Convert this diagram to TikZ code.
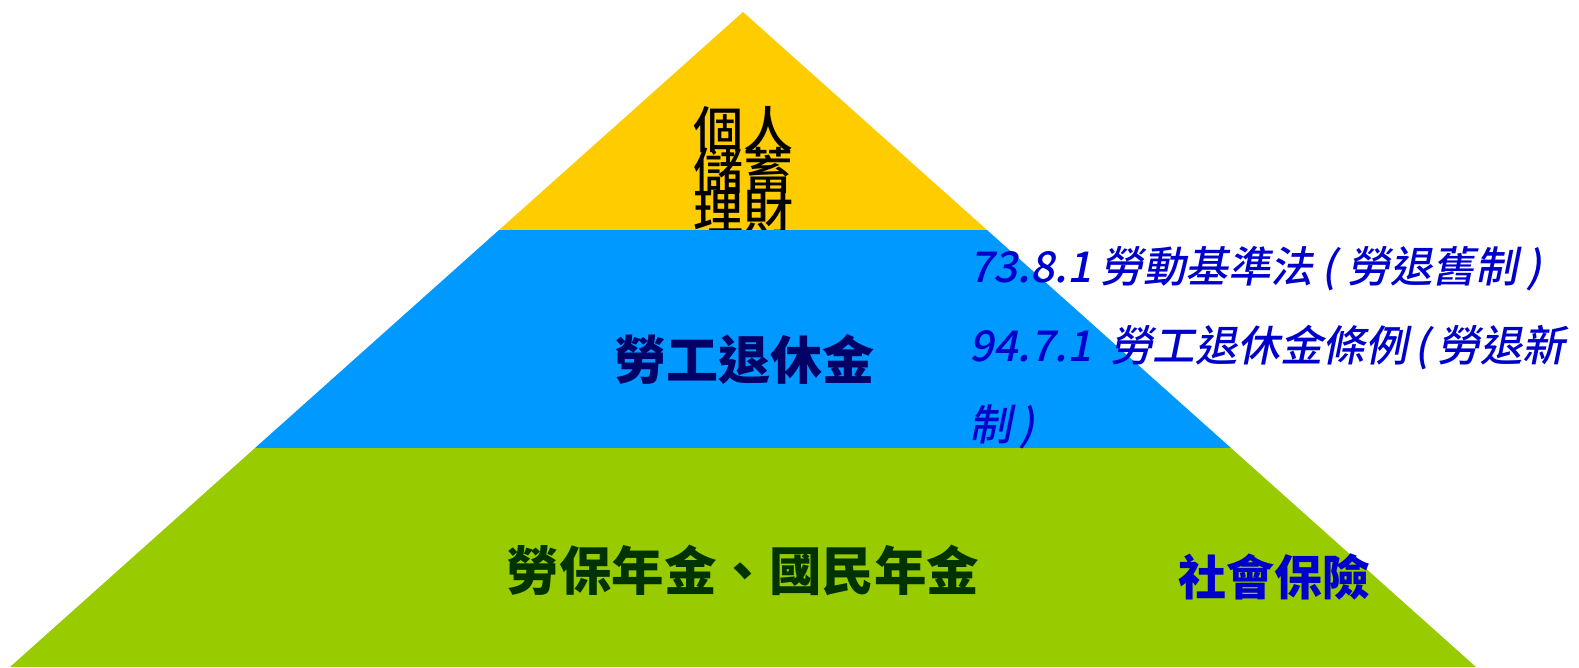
\documentclass[tikz,border=0pt]{standalone}
\usepackage{fontspec}
\newfontfamily\cjk{Noto Sans CJK TC}
\newfontfamily\cjkm{Noto Sans CJK TC Medium}
\newfontfamily\cjki{Noto Sans CJK TC Medium}[FakeSlant=0.2]
\definecolor{topyellow}{HTML}{FFCC00}
\definecolor{midblue}{HTML}{0099FF}
\definecolor{basegreen}{HTML}{99CC00}
\definecolor{navytext}{HTML}{000066}
\definecolor{greentext}{HTML}{003300}
\definecolor{bluetext}{HTML}{0000CC}
\tikzset{
  lbl/.style={inner sep=0pt, outer sep=0pt},
  toptext/.style={lbl, font=\cjkm\fontsize{50}{41}\selectfont, text=black, anchor=base},
  midtext/.style={lbl, font=\cjk\bfseries\fontsize{52}{60}\selectfont, text=navytext, anchor=base},
  basetext/.style={lbl, font=\cjk\bfseries\fontsize{52.5}{60}\selectfont, text=greentext, anchor=base},
  socialtext/.style={lbl, font=\cjk\bfseries\fontsize{48}{56}\selectfont, text=bluetext, anchor=base},
  lawtext/.style={lbl, font=\cjki\fontsize{42.5}{79}\selectfont, text=bluetext, anchor=base west},
}
\begin{document}
\begin{tikzpicture}[x=1pt,y=-1pt]
\useasboundingbox (0,0) rectangle (1579,667);
\coordinate (apex) at (743,12);
\coordinate (yl) at (499,230);
\coordinate (yr) at (987,230);
\coordinate (bl) at (255,448);
\coordinate (br) at (1231,448);
\coordinate (gl) at (10,667);
\coordinate (gr) at (1476,667);
\fill[topyellow] (apex) -- (yr) -- (yl) -- cycle;
\node[toptext] (t1) at (743,148) {個人};
\node[toptext] (t2) at (743,189) {儲蓄};
\node[toptext] (t3) at (743,230) {理財};
\fill[midblue] (yl) -- (yr) -- (br) -- (bl) -- cycle;
\fill[basegreen] (bl) -- (br) -- (gr) -- (gl) -- cycle;
\node[midtext] (mid) at (744,379) {勞工退休金};
\node[basetext] (base) at (743,590) {勞保年金、國民年金};
\node[socialtext] (social) at (1274,595) {社會保險};
\node[lawtext] (law1) at (969,282) {73.8.1 勞動基準法\hspace{0.2em}(\hspace{0.25em}勞退舊制\hspace{0.2em})};
\node[lawtext] (law2) at (969,361) {94.7.1\ \ 勞工退休金條例\hspace{0.15em}(\hspace{0.2em}勞退新};
\node[lawtext] (law3) at (969,440) {制\hspace{0.2em})};
\end{tikzpicture}
\end{document}
